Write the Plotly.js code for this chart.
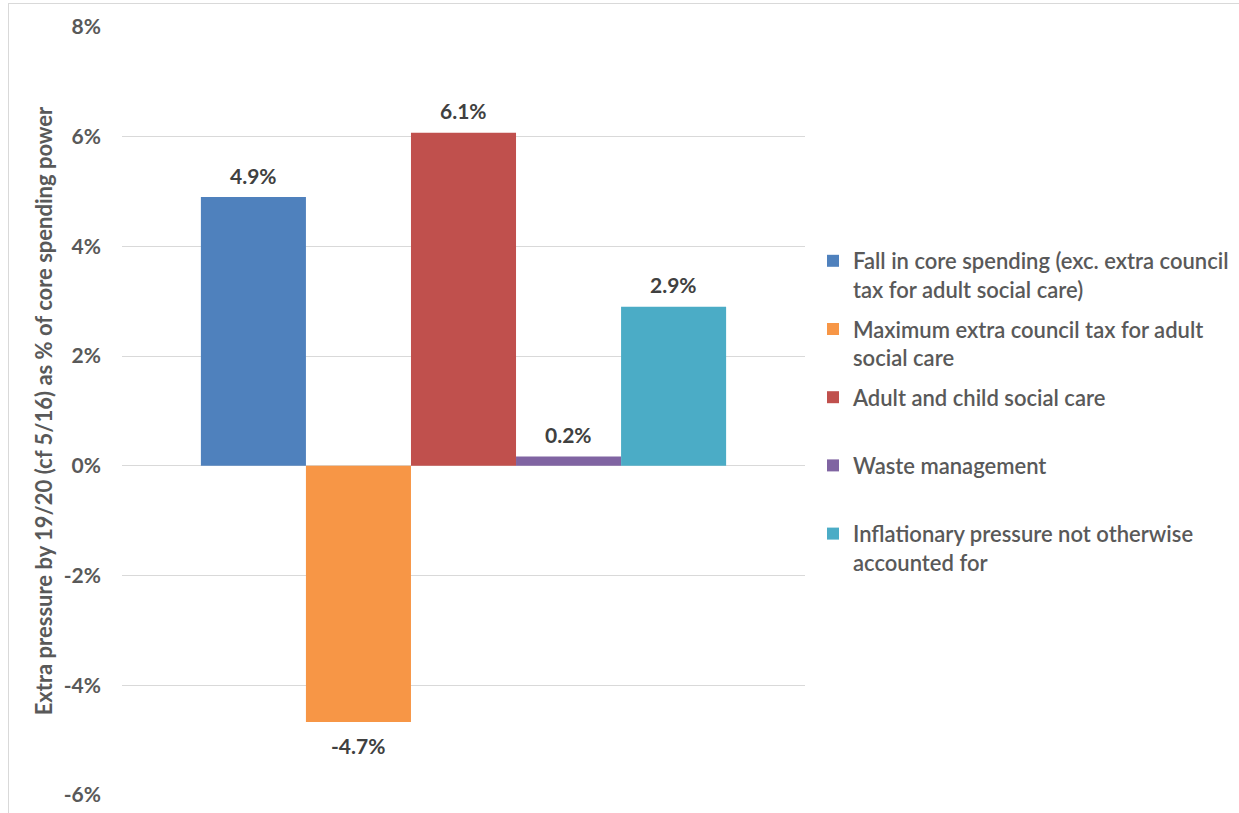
<!DOCTYPE html>
<html>
<head>
<meta charset="utf-8">
<script src="https://cdn.plot.ly/plotly-3.0.1.min.js"></script>
<style>
  html, body { margin: 0; padding: 0; background: #ffffff; overflow: hidden; }
  #frame { position: absolute; left: 8px; top: 3px; width: 1300px; height: 900px; border: 1px solid #d9d9d9; box-sizing: border-box; }
  #chart { position: absolute; left: 0; top: 0; width: 1239px; height: 813px; }
</style>
</head>
<body>
<div id="frame"></div>
<div id="chart"></div>
<script>
// Data
const seriesNames = [
  "Fall in core spending (exc. extra council<br>tax for adult social care)",
  "Maximum extra council tax for adult<br>social care",
  "Adult and child social care<br> ",
  "Waste management<br> ",
  "Inflationary pressure not otherwise<br>accounted for"
];
const seriesValues = [4.9, -4.67, 6.07, 0.17, 2.9];
const seriesLabels = ["4.9%", "-4.7%", "6.1%", "0.2%", "2.9%"];
const seriesColors = ["#4F81BD", "#F79646", "#C0504D", "#8064A2", "#4BACC6"];
const yTickVals = [-6, -4, -2, 0, 2, 4, 6, 8];
const yTickText = ["-6%", "-4%", "-2%", "0%", "2%", "4%", "6%", "8%"];
const yTitle = "Extra pressure by 19/20 (cf 5/16) as % of core spending power";

const FONT = "Lato, 'Open Sans', sans-serif";
const BARGAP = 0.231;
const nSeries = seriesValues.length;
const groupW = 1 - BARGAP;
const barW = groupW / nSeries;

const traces = seriesNames.map((name, i) => ({
  type: "bar",
  x: [0],
  y: [seriesValues[i]],
  name: name,
  legendgroup: "g" + i,
  marker: { color: seriesColors[i] },
  hoverinfo: "skip"
}));

// data labels placed at each bar's own position in the group
const annotations = seriesValues.map((v, i) => ({
  x: -groupW / 2 + (i + 0.5) * barW,
  y: v,
  xref: "x",
  yref: "y",
  text: seriesLabels[i],
  showarrow: false,
  xanchor: "center",
  yanchor: "middle",
  yshift: v >= 0 ? 22 : -23,
  font: { family: FONT, size: 21, color: "#404040", weight: 700 }
}));

const layout = {
  width: 1239,
  height: 813,
  paper_bgcolor: "rgba(0,0,0,0)",
  plot_bgcolor: "rgba(0,0,0,0)",
  margin: { l: 122, r: 434, t: 27, b: 18 },
  barmode: "group",
  bargap: BARGAP,
  bargroupgap: 0,
  showlegend: true,
  font: { family: FONT, color: "#595959" },
  annotations: annotations,
  xaxis: {
    range: [-0.5, 0.5],
    showticklabels: false,
    showgrid: false,
    zeroline: false,
    showline: false,
    ticks: "",
    fixedrange: true
  },
  yaxis: {
    range: [-6, 8],
    tickvals: yTickVals,
    ticktext: yTickText,
    showgrid: true,
    gridcolor: "#d9d9d9",
    gridwidth: 1,
    zeroline: true,
    zerolinecolor: "#d9d9d9",
    zerolinewidth: 1,
    showline: false,
    ticks: "",
    ticklabelstandoff: 20,
    tickfont: { family: FONT, size: 21, color: "#595959", weight: 700 },
    title: {
      text: yTitle,
      font: { family: FONT, size: 22, color: "#595959", weight: 700 },
      standoff: 5
    }
  },
  legend: {
    xref: "container",
    yref: "container",
    x: 813 / 1239,
    xanchor: "left",
    y: 1 - 240 / 813,
    yanchor: "top",
    valign: "top",
    tracegroupgap: 8,
    font: { family: FONT, size: 22, color: "#595959", weight: 600 },
    bgcolor: "rgba(0,0,0,0)",
    itemclick: false,
    itemdoubleclick: false
  }
};

Plotly.newPlot("chart", traces, layout, { displayModeBar: false, staticPlot: true });
</script>
</body>
</html>
